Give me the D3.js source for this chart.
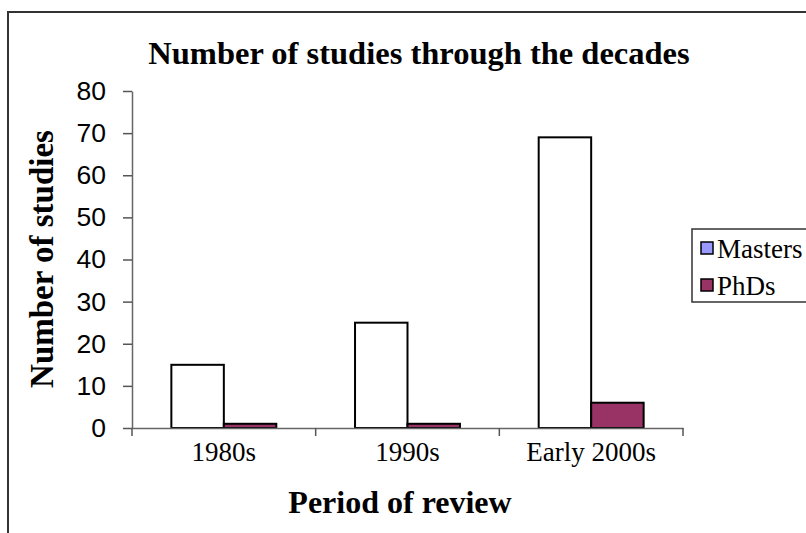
<!DOCTYPE html>
<html>
<head>
<meta charset="utf-8">
<script src="https://cdn.jsdelivr.net/npm/d3@7"></script>
<style>
  html, body { margin: 0; padding: 0; background: #fff; }
  svg { display: block; }
</style>
</head>
<body>
<script>
// ---- data ----
const categories = ["1980s", "1990s", "Early 2000s"];
const seriesNames = ["Masters", "PhDs"];
const masters = [15, 25, 69];
const phds = [1, 1, 6];
const yTicks = [0, 10, 20, 30, 40, 50, 60, 70, 80];
const barFills = ["#FFFFFF", "#993366"];
const legendFills = ["#9999FF", "#993366"];

const W = 806, H = 533;
const svg = d3.select("body").append("svg").attr("width", W).attr("height", H);

// chart border (extends beyond right/bottom edges)
svg.append("rect").attr("x", 8).attr("y", 12).attr("width", 820).attr("height", 540)
  .attr("fill", "#fff").attr("stroke", "#333").attr("stroke-width", 2);

const plot = { left: 132, right: 683, top: 91, bottom: 428 };

const x0 = d3.scaleBand().domain(categories).range([plot.left, plot.right]).paddingInner(0).paddingOuter(0);
const unit = x0.bandwidth() / 3.5;
const x1 = d3.scaleBand().domain(seriesNames).range([0.75 * unit, 2.75 * unit]).padding(0);
const y = d3.scaleLinear().domain([0, 80]).range([plot.bottom, plot.top]);

const serif = "'Liberation Serif', 'Times New Roman', serif";
const sans = "'Liberation Sans', Arial, sans-serif";

// title
svg.append("text").attr("x", 419).attr("y", 64).attr("text-anchor", "middle")
  .attr("font-family", serif).attr("font-weight", "bold").attr("font-size", 32.5)
  .text("Number of studies through the decades");

// bars
const rows = categories.map((c, i) => ({ cat: c, vals: [masters[i], phds[i]] }));
const groups = svg.append("g").selectAll("g").data(rows).join("g")
  .attr("transform", d => `translate(${x0(d.cat)},0)`);
groups.selectAll("rect").data(d => d.vals.map((v, j) => ({ s: seriesNames[j], v, j })))
  .join("rect")
  .attr("x", d => x1(d.s)).attr("width", x1.bandwidth())
  .attr("y", d => y(d.v)).attr("height", d => y(0) - y(d.v))
  .attr("fill", d => barFills[d.j]).attr("stroke", "#000").attr("stroke-width", 2);

// y axis
const yAxis = d3.axisLeft(y).tickValues(yTicks).tickSize(9).tickPadding(17).tickSizeOuter(0);
const gy = svg.append("g").attr("transform", `translate(${plot.left},0)`).call(yAxis);
gy.select(".domain").attr("stroke", "#666").attr("stroke-width", 1.5);
gy.selectAll(".tick line").attr("stroke", "#555").attr("stroke-width", 1.5);
gy.selectAll(".tick text").attr("font-family", sans).attr("font-size", 26.5).attr("fill", "#000");

// x axis
const xAxis = d3.axisBottom(x0).tickSize(0).tickPadding(14).tickSizeOuter(0);
const gx = svg.append("g").attr("transform", `translate(0,${plot.bottom})`).call(xAxis);
gx.select(".domain").attr("stroke", "#666").attr("stroke-width", 1.5);
gx.selectAll(".tick text").attr("font-family", serif).attr("font-size", 27).attr("fill", "#000");
// boundary ticks
const bounds = categories.map(c => x0(c)).concat([x0.range()[1]]);
gx.selectAll(".btick").data(bounds).join("line").attr("class", "btick")
  .attr("x1", d => d).attr("x2", d => d).attr("y1", 0).attr("y2", 8)
  .attr("stroke", "#555").attr("stroke-width", 1.5);

// axis titles
svg.append("text").attr("x", 400).attr("y", 513).attr("text-anchor", "middle")
  .attr("font-family", serif).attr("font-weight", "bold").attr("font-size", 32)
  .text("Period of review");
svg.append("text").attr("transform", "translate(53,259) rotate(-90)").attr("text-anchor", "middle")
  .attr("font-family", serif).attr("font-weight", "bold").attr("font-size", 33)
  .text("Number of studies");

// legend
const lg = svg.append("g");
lg.append("rect").attr("x", 692).attr("y", 229).attr("width", 130).attr("height", 73)
  .attr("fill", "#fff").attr("stroke", "#333").attr("stroke-width", 1.5);
const items = lg.selectAll("g.item").data(seriesNames).join("g").attr("class", "item")
  .attr("transform", (d, i) => `translate(701,${242 + i * 37})`);
items.append("rect").attr("width", 12).attr("height", 12)
  .attr("fill", (d, i) => legendFills[i]).attr("stroke", "#000").attr("stroke-width", 1.5);
items.append("text").attr("x", 16).attr("y", 6).attr("dy", "0.36em")
  .attr("font-family", serif).attr("font-size", 27).text(d => d);
</script>
</body>
</html>
